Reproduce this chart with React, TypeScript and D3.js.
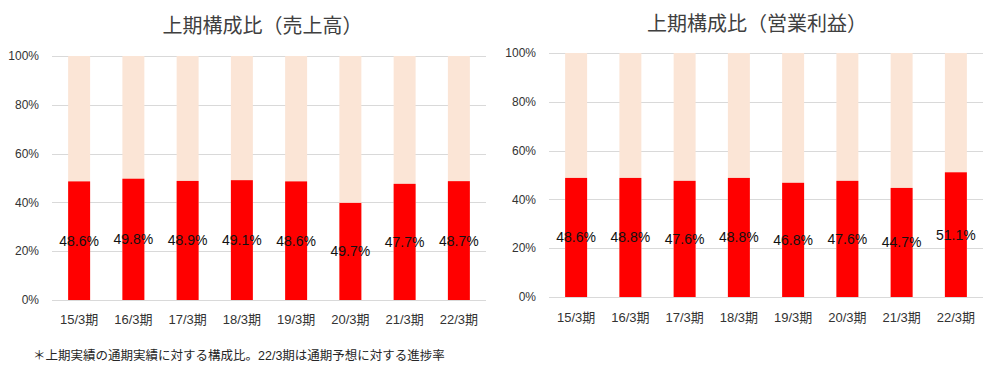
import React from "react";
import * as d3 from "d3";

const categories = ["15/3期", "16/3期", "17/3期", "18/3期", "19/3期", "20/3期", "21/3期", "22/3期"];
const salesValues = [48.6, 49.7, 48.8, 49.1, 48.6, 39.8, 47.6, 48.7];
const salesLabels = ["48.6%", "49.8%", "48.9%", "49.1%", "48.6%", "49.7%", "47.7%", "48.7%"];
const profitValues = [48.8, 48.8, 47.6, 48.8, 46.8, 47.6, 44.7, 51.1];
const profitLabels = ["48.6%", "48.8%", "47.6%", "48.8%", "46.8%", "47.6%", "44.7%", "51.1%"];
const yTicks = [0, 20, 40, 60, 80, 100];
const titles = ["上期構成比（売上高）", "上期構成比（営業利益）"];
const footnote = "＊上期実績の通期実績に対する構成比。22/3期は通期予想に対する進捗率";

const FONT = "'Liberation Sans', Arial, 'Noto Sans CJK JP', sans-serif";
const CJK = "'Noto Sans CJK JP', sans-serif";

type PanelProps = {
  values: number[];
  labels: string[];
  title: string;
  x0: number;
  x1: number;
  yTop: number;
  yBottom: number;
  titleX: number;
  titleY: number;
  tickRight: number;
  xLabelY: number;
};

function Panel(p: PanelProps) {
  const x = d3.scaleBand<string>().domain(categories).range([p.x0, p.x1]).paddingInner(0.595).paddingOuter(0.2975);
  const y = d3.scaleLinear().domain([0, 100]).range([p.yBottom, p.yTop]);
  const bw = x.bandwidth();
  return (
    <g>
      <text x={p.titleX} y={p.titleY} textAnchor="middle" fontFamily={CJK} fontSize={20} fill="#404040">
        {p.title}
      </text>
      {yTicks.map((t) => (
        <g key={t}>
          <line x1={p.x0} x2={p.x1} y1={Math.round(y(t)) + 0.5} y2={Math.round(y(t)) + 0.5} stroke="#D9D9D9" strokeWidth={1} />
          <text x={p.tickRight} y={y(t)} dy="0.35em" textAnchor="end" fontFamily={FONT} fontSize={12} fill="#333333">
            {t}%
          </text>
        </g>
      ))}
      {categories.map((c, i) => (
        <g key={c}>
          <rect x={x(c)} y={y(100)} width={bw} height={y(0) - y(100)} fill="#FBE5D6" />
          <rect x={x(c)} y={y(p.values[i])} width={bw} height={y(0) - y(p.values[i])} fill="#FF0000" />
          <text
            x={(x(c) as number) + bw / 2}
            y={(y(p.values[i]) + y(0)) / 2 + 5}
            textAnchor="middle"
            fontFamily={FONT}
            fontSize={14}
            fill="#111111"
          >
            {p.labels[i]}
          </text>
          <text x={(x(c) as number) + bw / 2} y={p.xLabelY} textAnchor="middle" fontFamily={FONT} fontSize={13} fill="#333333">
            {c}
          </text>
        </g>
      ))}
    </g>
  );
}

export default function App() {
  return (
    <svg width={994} height={383} style={{ position: "absolute", left: 0, top: 0, background: "#fff" }}>
      <rect width={994} height={383} fill="#fff" />
      <Panel
        values={salesValues}
        labels={salesLabels}
        title={titles[0]}
        x0={52}
        x1={486}
        yTop={56}
        yBottom={300}
        titleX={262.5}
        titleY={33}
        tickRight={39}
        xLabelY={324}
      />
      <Panel
        values={profitValues}
        labels={profitLabels}
        title={titles[1]}
        x0={549}
        x1={983}
        yTop={53}
        yBottom={297}
        titleX={757}
        titleY={31}
        tickRight={536}
        xLabelY={321.5}
      />
      <text x={33} y={360} fontFamily={FONT} fontSize={12.5} fill="#262626">
        {footnote}
      </text>
    </svg>
  );
}
